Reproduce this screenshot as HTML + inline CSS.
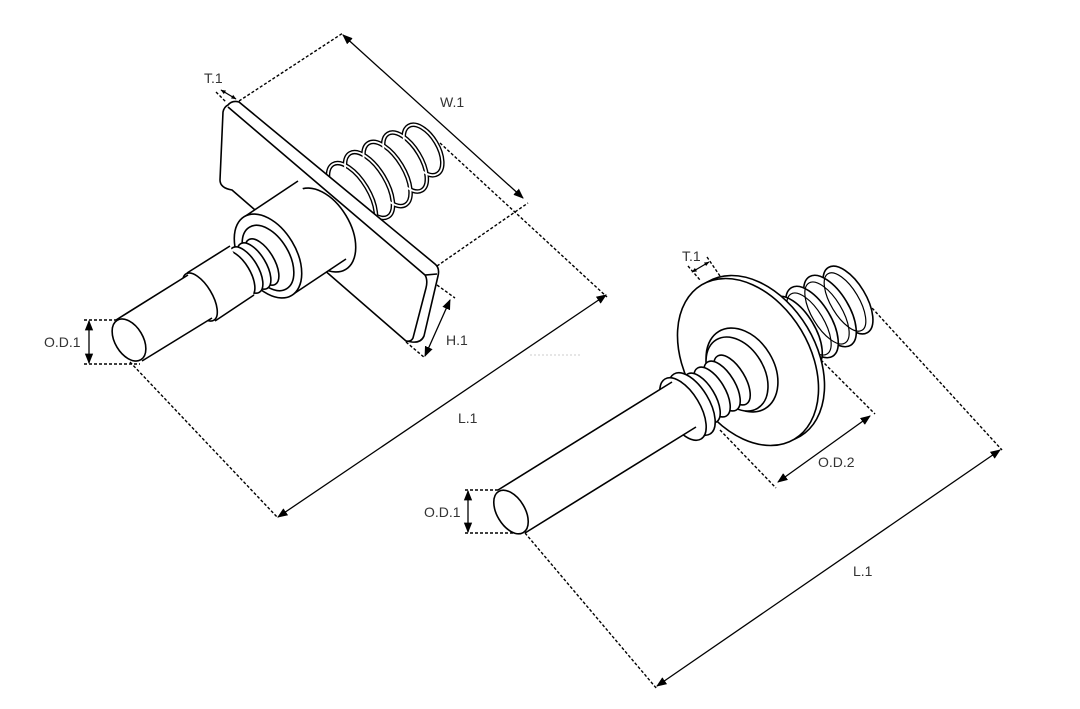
<!DOCTYPE html>
<html><head><meta charset="utf-8"><style>
html,body{margin:0;padding:0;background:#fff}
svg{display:block}
text{font-family:"Liberation Sans",sans-serif;font-size:14px;fill:#333}
</style></head><body>
<svg width="1080" height="709" viewBox="0 0 1080 709" xmlns="http://www.w3.org/2000/svg">
<defs>
<marker id="a" viewBox="0 0 10 10" refX="9" refY="5" markerWidth="8" markerHeight="8" orient="auto-start-reverse"><path d="M0,1 L10,5 L0,9 z" fill="#000"/></marker>
<marker id="s" viewBox="0 0 10 10" refX="9" refY="5" markerWidth="4" markerHeight="4" orient="auto-start-reverse"><path d="M0,1 L10,5 L0,9 z" fill="#000"/></marker>
</defs>
<g fill="none" stroke="#000" stroke-width="1.4" stroke-dasharray="3,2">
<line x1="239" y1="101" x2="343" y2="33"/>
<line x1="216" y1="92" x2="226" y2="102"/>
<line x1="437" y1="266" x2="528" y2="203"/>
<line x1="440" y1="143" x2="607" y2="297"/>
<line x1="130" y1="362" x2="278" y2="518"/>
<line x1="437" y1="285" x2="455" y2="298"/>
<line x1="406" y1="342" x2="425" y2="358"/>
<line x1="84" y1="320" x2="118" y2="320"/>
<line x1="84" y1="364" x2="140" y2="364"/>
<line x1="707" y1="257" x2="720" y2="276"/>
<line x1="688" y1="266" x2="700" y2="280"/>
<line x1="821" y1="360" x2="875" y2="414"/>
<line x1="720" y1="430" x2="776" y2="488"/>
<line x1="862" y1="297" x2="1002" y2="450"/>
<line x1="525" y1="533" x2="657" y2="689"/>
<line x1="465" y1="490" x2="500" y2="490"/>
<line x1="465" y1="533" x2="522" y2="533"/>
</g>
<line x1="530" y1="355" x2="580" y2="355" stroke="#ccc" stroke-width="1" stroke-dasharray="2,2"/>
<g stroke="#000" stroke-width="1.3" fill="none" marker-start="url(#a)" marker-end="url(#a)">
<line x1="343" y1="35" x2="523" y2="198"/>
<line x1="606" y1="295" x2="278" y2="517"/>
<line x1="450" y1="300" x2="425" y2="356"/>
<line x1="89" y1="321" x2="89" y2="363"/>
<line x1="870" y1="416" x2="778" y2="482"/>
<line x1="1000" y1="450" x2="657" y2="686"/>
<line x1="468" y1="491" x2="468" y2="532"/>
</g>
<g stroke="#000" stroke-width="1.3" fill="none" marker-start="url(#s)" marker-end="url(#s)">
<line x1="221" y1="90" x2="236" y2="99"/>
<line x1="692" y1="272" x2="709" y2="262"/>
</g>
<g stroke="#000" stroke-width="1.6" fill="#fff">
<!-- left rear spring -->
<g stroke-width="4.6">
<ellipse cx="423" cy="150" rx="15" ry="28" transform="rotate(-31 423 150)"/>
<ellipse cx="405" cy="162" rx="16" ry="33" transform="rotate(-31 405 162)"/>
<ellipse cx="387" cy="174" rx="17" ry="36" transform="rotate(-31 387 174)"/>
<ellipse cx="369" cy="185" rx="17" ry="37" transform="rotate(-31 369 185)"/>
<ellipse cx="352" cy="196" rx="17" ry="37" transform="rotate(-31 352 196)"/>
</g>
<g stroke="#fff" stroke-width="1.8" fill="none">
<ellipse cx="423" cy="150" rx="15" ry="28" transform="rotate(-31 423 150)"/>
<ellipse cx="405" cy="162" rx="16" ry="33" transform="rotate(-31 405 162)"/>
<ellipse cx="387" cy="174" rx="17" ry="36" transform="rotate(-31 387 174)"/>
<ellipse cx="369" cy="185" rx="17" ry="37" transform="rotate(-31 369 185)"/>
<ellipse cx="352" cy="196" rx="17" ry="37" transform="rotate(-31 352 196)"/>
</g>
<!-- plate -->
<path d="M228,105 Q232,100 239,102 L435,264 Q440,268 438,276 L424,336 Q421,343 412,342 L406,341 L232,190 Q220,188 220,180 L223,112 Q224,107 228,105 Z"/>
<path d="M228,107 L425,275 L437,274 M425,275 Q428,280 426,288 L413,338 Q411,342 406,341" fill="none"/>
<!-- collar -->
<ellipse cx="322" cy="230" rx="28" ry="46" transform="rotate(-31 322 230)"/>
<path d="M244,217 L298,181 L346,259 L292,295 Z" stroke="none"/>
<line x1="244" y1="217" x2="298" y2="181"/>
<line x1="292" y1="295" x2="346" y2="259"/>
<ellipse cx="268" cy="256" rx="28" ry="46" transform="rotate(-31 268 256)"/>
<ellipse cx="268" cy="258" rx="21" ry="36" transform="rotate(-31 268 258)"/>
<!-- small spring -->
<ellipse cx="262" cy="262" rx="12" ry="26" transform="rotate(-31 262 262)"/>
<ellipse cx="254" cy="266" rx="12" ry="26" transform="rotate(-31 254 266)"/>
<ellipse cx="246" cy="270" rx="12" ry="26" transform="rotate(-31 246 270)"/>
<ellipse cx="238" cy="274" rx="12" ry="26" transform="rotate(-31 238 274)"/>
<!-- step -->
<path d="M187,273 L230,246 L254,295 L215,321 Z" stroke="none"/>
<line x1="187" y1="273" x2="230" y2="246"/><line x1="215" y1="321" x2="254" y2="295"/>
<ellipse cx="200" cy="297" rx="12" ry="27" transform="rotate(-31 200 297)"/>
<!-- shaft -->
<path d="M116,320 L188,275 L212,318 L142,361 Z" stroke="none"/>
<line x1="116" y1="320" x2="188" y2="275"/><line x1="142" y1="361" x2="212" y2="318"/>
<ellipse cx="129" cy="340" rx="14" ry="23" transform="rotate(-31 129 340)"/>

<!-- right rear spring -->
<ellipse cx="848" cy="300" rx="18" ry="38" transform="rotate(-31 848 300)"/>
<ellipse cx="830" cy="311" rx="19" ry="40" transform="rotate(-31 830 311)"/>
<ellipse cx="812" cy="322" rx="19" ry="40" transform="rotate(-31 812 322)"/>
<ellipse cx="796" cy="332" rx="19" ry="40" transform="rotate(-31 796 332)"/>
<g stroke-width="1.2" fill="none">
<ellipse cx="845" cy="302" rx="14" ry="33" transform="rotate(-31 845 302)"/>
<ellipse cx="827" cy="313" rx="15" ry="35" transform="rotate(-31 827 313)"/>
<ellipse cx="809" cy="324" rx="15" ry="35" transform="rotate(-31 809 324)"/>
</g>
<!-- big washer -->
<ellipse cx="754" cy="359" rx="62" ry="90" transform="rotate(-31 754 359)"/>
<ellipse cx="748" cy="362" rx="62" ry="90" transform="rotate(-31 748 362)"/>
<ellipse cx="742" cy="370" rx="32" ry="45" transform="rotate(-31 742 370)"/>
<ellipse cx="737" cy="374" rx="27" ry="40" transform="rotate(-31 737 374)"/>
<!-- small spring right -->
<ellipse cx="732" cy="380" rx="13" ry="28" transform="rotate(-31 732 380)"/>
<ellipse cx="722" cy="386" rx="13" ry="28" transform="rotate(-31 722 386)"/>
<ellipse cx="712" cy="392" rx="13" ry="28" transform="rotate(-31 712 392)"/>
<ellipse cx="702" cy="398" rx="13" ry="28" transform="rotate(-31 702 398)"/>
<ellipse cx="692" cy="404" rx="17" ry="35" transform="rotate(-31 692 404)"/>
<ellipse cx="683" cy="409" rx="17" ry="35" transform="rotate(-31 683 409)"/>
<!-- shaft right -->
<path d="M498,490 L672,382 L696,427 L525,533 Z" stroke="none"/>
<line x1="498" y1="490" x2="672" y2="382"/><line x1="525" y1="533" x2="696" y2="427"/>
<ellipse cx="511" cy="512" rx="14" ry="24" transform="rotate(-31 511 512)"/>
</g>
<text x="204" y="83">T.1</text>
<text x="440" y="107">W.1</text>
<text x="446" y="345">H.1</text>
<text x="458" y="423">L.1</text>
<text x="44" y="347">O.D.1</text>
<text x="682" y="261">T.1</text>
<text x="818" y="467">O.D.2</text>
<text x="853" y="576">L.1</text>
<text x="424" y="517">O.D.1</text>
</svg>
</body></html>
